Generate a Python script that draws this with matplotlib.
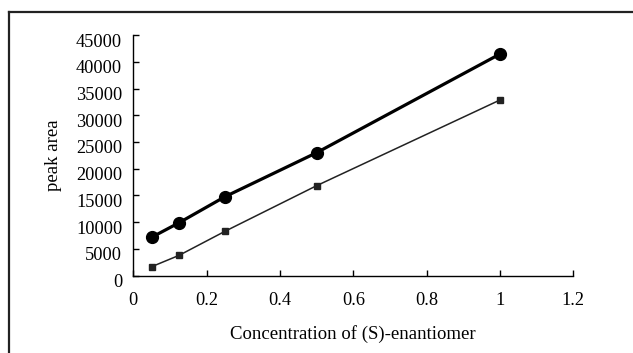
import matplotlib
matplotlib.use('Agg')
import matplotlib.pyplot as plt
from matplotlib.lines import Line2D
from matplotlib.transforms import ScaledTranslation

# concentration of (S)-enantiomer
conc = [0.05, 0.125, 0.25, 0.5, 1.0]
# peak area, two series
area_circle = [7180, 9910, 14770, 23000, 41450]
area_square = [1680, 3810, 8300, 16830, 32850]

x_ticks = [0, 0.2, 0.4, 0.6, 0.8, 1.0, 1.2]
x_ticklabels = ['0', '0.2', '0.4', '0.6', '0.8', '1', '1.2']
y_ticks = [0, 5000, 10000, 15000, 20000, 25000, 30000, 35000, 40000, 45000]

plt.rcParams['font.family'] = ['Liberation Serif', 'DejaVu Serif']

fig = plt.figure(figsize=(6.33, 3.53), dpi=100)
ax = fig.add_axes([0.2106, 0.219, 0.6951, 0.6818])

ax.plot(conc, area_circle, color='black', lw=2.3, marker='o', ms=8.5)
ax.plot(conc, area_square, color='#222222', lw=1.1, marker='s', ms=4.5)

ax.set_xlim(0, 1.2)
ax.set_ylim(0, 45000)
ax.set_xticks(x_ticks)
ax.set_xticklabels(x_ticklabels)
ax.set_yticks(y_ticks)
ax.tick_params(axis='both', direction='in', length=4, width=1, labelsize=13.2)
ax.tick_params(axis='x', pad=12)
ax.tick_params(axis='y', pad=8)
for s in ['top', 'right']:
    ax.spines[s].set_visible(False)
for s in ['left', 'bottom']:
    ax.spines[s].set_linewidth(1)

# y tick labels sit a bit below their ticks in the original
shift = ScaledTranslation(0, -5 / 100, fig.dpi_scale_trans)
for lab in ax.get_yticklabels():
    lab.set_transform(lab.get_transform() + shift)

ax.set_xlabel('Concentration of (S)-enantiomer', fontsize=13.5, labelpad=11)
ax.set_ylabel('peak area', fontsize=13.5, labelpad=10)

# outer frame (only left and top edges visible in the crop)
fx = 9 / 633
fy = 1 - 12 / 353
fig.add_artist(Line2D([fx, fx], [fy, -0.1], transform=fig.transFigure, color='#222222', lw=1.6))
fig.add_artist(Line2D([fx, 1.1], [fy, fy], transform=fig.transFigure, color='#222222', lw=1.6))

fig.savefig('out.png', dpi=100)
